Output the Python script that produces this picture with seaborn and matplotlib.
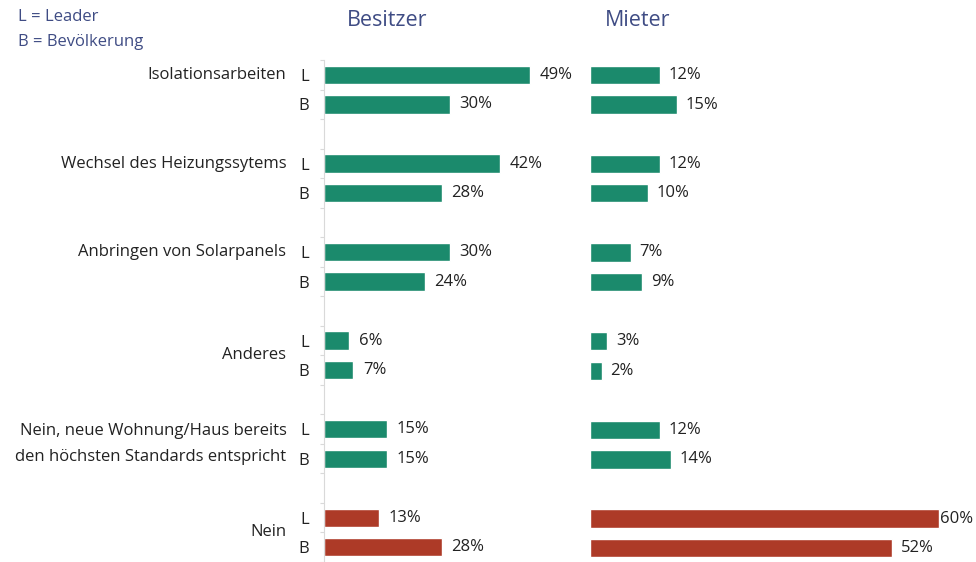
import matplotlib
matplotlib.use("Agg")
import matplotlib.pyplot as plt
import seaborn as sns
import pandas as pd

# ---------------- data ----------------
categories = [
    "Isolationsarbeiten",
    "Wechsel des Heizungssytems",
    "Anbringen von Solarpanels",
    "Anderes",
    "Nein, neue Wohnung/Haus bereits\nden höchsten Standards entspricht",
    "Nein",
]
respondents = ["L", "B"]
besitzer_leader = [49, 42, 30, 6, 15, 13]
besitzer_bevoelkerung = [30, 28, 24, 7, 15, 28]
mieter_leader = [12, 12, 7, 3, 12, 60]
mieter_bevoelkerung = [15, 10, 9, 2, 14, 52]
panel_titles = ["Besitzer", "Mieter"]
legend_lines = ["L = Leader", "B = Bevölkerung"]
label_on_center = [False, False, False, True, True, True]

GREEN = "#1b8a6c"
RED = "#ad3a27"
TITLE_C = "#3f4c84"
TEXT_C = "#222222"
FS = 12

sns.set_theme(style="white")
plt.rcParams["font.family"] = ["Open Sans", "DejaVu Sans"]


def make_df(leader, bev):
    rows = []
    for i, cat in enumerate(categories):
        kind = "neg" if cat == "Nein" else "pos"
        for j, (resp, vals) in enumerate(zip(respondents, (leader, bev))):
            rows.append({"pos": i * 3 + j, "value": vals[i], "resp": resp,
                         "kind": kind})
    return pd.DataFrame(rows)


df_b = make_df(besitzer_leader, besitzer_bevoelkerung)
df_m = make_df(mieter_leader, mieter_bevoelkerung)

fig = plt.figure(figsize=(9.76, 5.62), dpi=100)
H = 517 / 562
axL = fig.add_axes([324 / 976, 0, 252 / 976, H])
axR = fig.add_axes([590 / 976, 0, 386 / 976, H])

ylim = (16.47, -1.015)
for ax, df, xmax, off in ((axL, df_b, 60, 7), (axR, df_m, 66.4, 6)):
    sns.barplot(data=df, x="value", y="pos", hue="kind", orient="h",
                native_scale=True, dodge=False, width=0.62,
                palette={"pos": GREEN, "neg": RED}, legend=False,
                saturation=1, ax=ax)
    ax.set_xlim(0, xmax)
    ax.set_ylim(*ylim)
    ax.set_xlabel("")
    ax.set_ylabel("")
    ax.set_xticks([])
    for s in ("top", "right", "bottom"):
        ax.spines[s].set_visible(False)
    for _, r in df.iterrows():
        o = 1 if r["value"] >= 55 else off
        ax.annotate(f"{r['value']}%", xy=(r["value"], r["pos"]),
                    xytext=(o, 0), textcoords="offset points",
                    ha="left", va="center", fontsize=FS, color=TEXT_C)

# left panel: axis line, minor ticks, L/B tick labels, category labels
axR.spines["left"].set_visible(False)
axR.set_yticks([])
axL.spines["left"].set_color("#d9d9d9")
axL.spines["left"].set_linewidth(0.8)
axL.spines["left"].set_bounds(-0.5, 16.5)
axL.set_yticks(df_b["pos"].tolist())
axL.set_yticklabels(df_b["resp"].tolist(), fontsize=FS, color=TEXT_C)
axL.tick_params(axis="y", which="major", length=0, pad=11)
axL.set_yticks([p + 0.5 for p in range(-1, 17)], minor=True)
axL.tick_params(axis="y", which="minor", length=3, color="#d9d9d9",
                width=0.8, left=True)

for i, cat in enumerate(categories):
    y = i * 3 + (0.5 if label_on_center[i] else 0)
    axL.annotate(cat, xy=(0, y), xycoords=("axes fraction", "data"),
                 xytext=(-27, 0), textcoords="offset points",
                 ha="right", va="center", fontsize=FS, color=TEXT_C,
                 linespacing=1.8)

# panel titles
fig.text(387 / 976, 1 - 20 / 562, panel_titles[0], ha="center", va="center",
         fontsize=15.5, color=TITLE_C)
fig.text(638 / 976, 1 - 20 / 562, panel_titles[1], ha="center", va="center",
         fontsize=15.5, color=TITLE_C)

# legend text
fig.text(18 / 976, 1 - 17 / 562, legend_lines[0], ha="left", va="center",
         fontsize=12, color=TITLE_C)
fig.text(18 / 976, 1 - 42 / 562, legend_lines[1], ha="left", va="center",
         fontsize=12, color=TITLE_C)

fig.savefig("out.png", dpi=100)
